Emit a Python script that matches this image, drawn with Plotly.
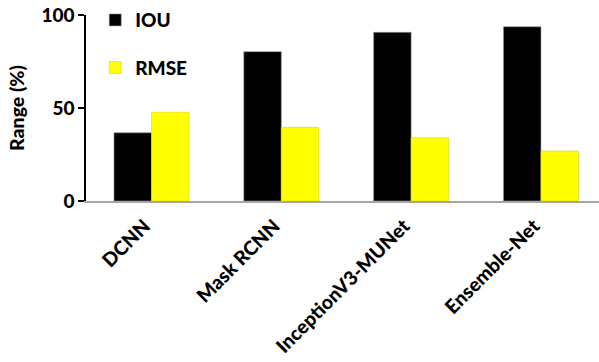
import plotly.graph_objects as go

categories = ["DCNN", "Mask RCNN", "InceptionV3-MUNet", "Ensemble-Net"]
iou = [36.7, 80.3, 90.7, 93.7]
rmse = [47.7, 39.6, 34.0, 26.9]
y_ticks = [0, 50, 100]

FONT = "Lato"
W = 900

fig = go.Figure()
fig.add_trace(go.Bar(name="IOU", x=categories, y=iou, legendgroup="a",
                     marker=dict(color="#000000", line=dict(color="#9a9a9a", width=0.6))))
fig.add_trace(go.Bar(name="RMSE", x=categories, y=rmse, legendgroup="b",
                     marker=dict(color="#FFFF00", line=dict(color="#d8d800", width=0.6))))

fig.update_layout(
    width=599, height=362,
    margin=dict(l=86, r=0, t=15, b=161),
    paper_bgcolor="white", plot_bgcolor="white",
    barmode="group", bargap=0.422, bargroupgap=0,
    font=dict(family=FONT, size=19, color="black", weight=W),
    showlegend=True,
    legend=dict(x=0.018, y=1.075, xanchor="left", yanchor="top",
                bgcolor="rgba(0,0,0,0)", tracegroupgap=20, itemwidth=30,
                font=dict(family=FONT, size=19, color="black", weight=W)),
    xaxis=dict(range=[-0.5045, 3.447], showline=True, linecolor="#a6a6a6", linewidth=2,
               ticks="", tickangle=-45, showgrid=False, zeroline=False,
               ticklabelshift=-7, ticklabelstandoff=4,
               tickfont=dict(family=FONT, size=19.5, color="black", weight=W)),
    yaxis=dict(range=[0, 100], tickvals=y_ticks, showline=True, linecolor="black", linewidth=1.5,
               ticks="outside", ticklen=6, tickwidth=1.5, tickcolor="black",
               showgrid=False, zeroline=False,
               title=dict(text="Range (%)", standoff=12,
                          font=dict(family=FONT, size=19.5, color="black", weight=W)),
               tickfont=dict(family=FONT, size=19, color="black", weight=W)),
)

fig.write_html("out.html")
